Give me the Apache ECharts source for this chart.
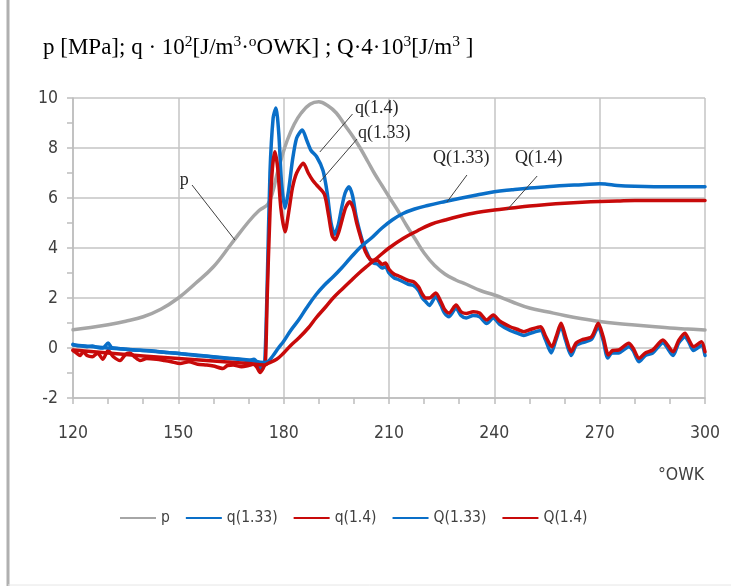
<!DOCTYPE html>
<html><head><meta charset="utf-8">
<script src="https://cdn.jsdelivr.net/npm/echarts@6/dist/echarts.min.js"></script>
<style>html,body{margin:0;padding:0;background:#fff}#c{width:731px;height:586px}</style>
</head><body><div id="c"></div>
<script>
const titleParts = [['n','p [MPa]; q \u00b7 10'],['s','2'],['n','[J/m'],['s','3'],['n','\u00b7'],['s','o'],['n','OWK] ; Q\u00b74\u00b710'],['s','3'],['n','[J/m'],['s','3'],['n',' ]']];
const xTicks = [120, 150, 180, 210, 240, 270, 300];
const yTicks = [-2, 0, 2, 4, 6, 8, 10];
const seriesNames = ['p', 'q(1.33)', 'q(1.4)', 'Q(1.33)', 'Q(1.4)'];

const pData = [[120,0.73],[125,0.82],[130,0.93],[135,1.07],[140,1.25],[145,1.55],[150,2.0],[155,2.6],[160,3.25],[165,4.15],[170,5.05],[173,5.5],[175.5,5.75],[177,6.3],[178,6.9],[179.4,7.6],[181,8.3],[183,8.95],[185,9.4],[187.5,9.75],[190,9.85],[192.5,9.7],[195,9.4],[197.5,8.9],[200,8.4],[202,7.95],[204,7.45],[206,6.95],[208,6.5],[210,6.05],[212.5,5.5],[215,4.9],[217.5,4.35],[220,3.8],[223,3.3],[226,2.95],[229,2.72],[232,2.55],[236,2.3],[240,2.12],[245,1.85],[250,1.6],[255,1.45],[260,1.3],[265,1.17],[270,1.06],[275,0.98],[280,0.92],[285,0.86],[290,0.8],[295,0.76],[300,0.72]];

const q133Data = [[120,0.15],[121,0.1],[122.5,0.08],[124,0.05],[125.5,0.08],[127,0.02],[128.5,0.0],[130,0.2],[131,0.02],[133,-0.02],[135,-0.05],[137,-0.08],[140,-0.1],[143,-0.12],[146,-0.17],[149,-0.2],[152,-0.25],[155,-0.3],[158,-0.33],[161,-0.38],[164,-0.42],[167,-0.45],[170,-0.5],[171.5,-0.45],[172.5,-0.6],[173.2,-0.9],[174,-0.65],[174.6,-0.6],[175.3,2.5],[176.1,7.0],[177,9.2],[177.8,9.6],[178.6,8.6],[179.4,6.6],[180.4,5.6],[181.4,6.3],[182.5,7.5],[183.7,8.4],[185.3,8.72],[186.6,8.3],[187.8,7.9],[189.4,7.65],[191.2,7.1],[192.4,6.2],[193.5,5.0],[194.5,4.55],[195.5,4.9],[196.5,5.6],[197.5,6.2],[198.6,6.45],[199.6,6.1],[200.6,5.3],[201.6,4.7],[202.6,4.2],[203.6,3.85],[204.6,3.55],[205.6,3.4],[206.8,3.35],[208,3.2],[209,3.25],[210,3.0],[211.5,2.8],[212.5,2.75],[214,2.65],[215.5,2.55],[217,2.5],[218.4,2.3],[219.5,2.0],[220.5,1.85],[221.5,1.7],[223.3,2.05],[224.8,1.7],[225.8,1.4],[227.1,1.25],[229.1,1.6],[230.5,1.3],[232,1.2],[234,1.3],[235.8,1.25],[237.8,0.98],[239.7,1.2],[241.5,0.95],[244.5,0.7],[246.5,0.6],[248.4,0.5],[250.5,0.6],[253.2,0.7],[254.5,0.35],[256.2,-0.2],[257.5,0.3],[259,0.85],[260.3,0.3],[261.9,-0.3],[263.3,0.1],[264.8,0.2],[267.7,0.35],[269.6,0.85],[271,0.3],[272.3,-0.4],[273.5,-0.2],[275.4,-0.2],[278.3,0.05],[279.5,-0.1],[281.2,-0.55],[283,-0.3],[285.1,-0.2],[288,0.2],[290.9,-0.3],[292.5,0.2],[294.3,0.45],[295.5,0.2],[296.7,-0.1],[299,0.1],[300,-0.3]];

const q14Data = [[120,-0.1],[121,-0.2],[122,-0.3],[123,-0.15],[124,-0.3],[125.5,-0.35],[127,-0.2],[128.5,-0.45],[130,-0.1],[131.5,-0.35],[133.4,-0.5],[135,-0.25],[136.2,-0.2],[137.5,-0.35],[139.1,-0.5],[141,-0.42],[143.8,-0.45],[146,-0.5],[148,-0.55],[150.5,-0.62],[153,-0.55],[155.5,-0.65],[158.1,-0.68],[160,-0.72],[162.7,-0.82],[164,-0.7],[165.6,-0.68],[168,-0.75],[170,-0.7],[171.3,-0.65],[172.3,-0.75],[173.3,-0.98],[174.2,-0.8],[174.8,-0.6],[175.3,2.0],[176.1,5.4],[176.8,7.2],[177.5,7.85],[178.3,7.2],[179.2,5.6],[180.4,4.65],[181.4,5.4],[182.5,6.4],[183.7,7.0],[185.6,7.39],[187,7.0],[188.3,6.7],[189.4,6.52],[191.6,6.15],[192.8,5.3],[193.8,4.5],[194.7,4.33],[195.6,4.6],[196.6,5.1],[197.6,5.6],[198.8,5.85],[199.8,5.6],[200.8,5.0],[202,4.4],[203.3,3.85],[204.6,3.55],[205.8,3.5],[206.8,3.5],[208,3.35],[209,3.4],[210,3.15],[211.5,2.95],[212.5,2.9],[214,2.8],[215.5,2.7],[217,2.65],[218.4,2.45],[219.5,2.15],[220.5,2.0],[221.5,2.0],[223.3,2.2],[224.8,1.85],[225.8,1.55],[227.1,1.4],[229.1,1.72],[230.5,1.45],[232,1.38],[234,1.45],[235.8,1.4],[237.8,1.12],[239.7,1.32],[241.5,1.08],[244.5,0.85],[246.5,0.75],[248.4,0.65],[250.5,0.75],[253.2,0.85],[254.5,0.5],[256.4,0.05],[257.6,0.45],[259,0.99],[260.3,0.45],[261.9,-0.15],[263.3,0.2],[264.8,0.32],[267.7,0.45],[269.6,0.99],[271,0.45],[272.5,-0.28],[273.7,-0.1],[275.4,-0.08],[278.3,0.19],[279.5,0.0],[281.2,-0.41],[283,-0.2],[285.1,-0.08],[288,0.32],[290.9,-0.15],[292.5,0.3],[294.3,0.59],[295.5,0.3],[296.7,0.05],[299,0.25],[300,-0.15]];

const Q133Data = [[120,0.12],[130,0.0],[140,-0.1],[150,-0.22],[160,-0.35],[170,-0.48],[174.5,-0.58],[175.5,-0.55],[177,-0.3],[178.5,0.0],[180,0.27],[182,0.7],[184.3,1.13],[186.5,1.6],[189.2,2.13],[191.5,2.5],[194.1,2.85],[196.5,3.2],[199,3.6],[202,4.05],[205,4.4],[208,4.8],[211,5.13],[214,5.38],[217.3,5.56],[221,5.7],[226,5.86],[230,5.98],[235,6.12],[240,6.25],[245,6.33],[250,6.4],[255,6.45],[260,6.5],[265,6.53],[270,6.57],[272,6.55],[275,6.5],[280,6.47],[290,6.45],[300,6.45]];

const Q14Data = [[120,-0.08],[130,-0.2],[140,-0.32],[150,-0.42],[160,-0.52],[170,-0.62],[174.5,-0.68],[175.5,-0.62],[178,-0.45],[180,-0.2],[182,0.1],[184.3,0.4],[187,0.8],[189.2,1.2],[192,1.65],[194.1,2.0],[197,2.4],[199,2.67],[201.5,3.0],[204,3.3],[207,3.65],[210,4.0],[214,4.38],[218,4.68],[222,4.95],[226,5.12],[230,5.27],[235,5.42],[240,5.52],[245,5.6],[250,5.68],[255,5.74],[260,5.79],[265,5.83],[270,5.86],[275,5.88],[280,5.9],[290,5.9],[300,5.9]];

// annotation labels: text anchor (left-middle) and leader line, in data coordinates
const annotations = [
  {text: 'p',       at: [150.4, 6.7],  from: [153.9, 6.52], to: [166.1, 4.32]},
  {text: 'q(1.4)',  at: [200.3, 9.6],  from: [199.6, 9.36], to: [190.3, 7.84]},
  {text: 'q(1.33)', at: [201.2, 8.6],  from: [200.9, 8.36], to: [190.3, 6.64]},
  {text: 'Q(1.33)', at: [222.5, 7.6],  from: [232.2, 6.92], to: [226.5, 5.84]},
  {text: 'Q(1.4)',  at: [245.9, 7.6],  from: [252.2, 6.88], to: [243.6, 5.52]}
];

const colors = ['#a6a6a6', '#0a6fc8', '#c80a0a', '#0a6fc8', '#c80a0a'];
const SANS = "'DejaVu Sans Condensed', 'Liberation Sans', sans-serif";
const SERIF = "'Liberation Serif', serif";

const chart = echarts.init(document.getElementById('c'), null, {renderer: 'canvas'});
const dataSets = [pData, q133Data, q14Data, Q133Data, Q14Data];
const smooths = [0.4, 0.25, 0.25, 0.4, 0.4];

const option = {
  animation: false,
  backgroundColor: '#fff',
  grid: {left: 73, right: 26, top: 98, bottom: 188, containLabel: false},
  legend: {
    left: 115, top: 505, itemWidth: 36, itemHeight: 12, itemGap: 16,
    icon: 'path://M0,5L36,5L36,7L0,7Z',
    data: seriesNames,
    textStyle: {fontFamily: SANS, fontSize: 15.5, color: '#404040'}
  },
  xAxis: {
    type: 'value', min: xTicks[0], max: xTicks[xTicks.length - 1], interval: 30,
    axisLine: {show: true, onZero: false, lineStyle: {color: '#bdbdbd', width: 1.5}},
    axisTick: {show: true, length: 6, lineStyle: {color: '#bdbdbd', width: 1.5}},
    minorTick: {show: true, splitNumber: 3, length: 6, lineStyle: {color: '#bdbdbd', width: 1.5}},
    splitLine: {show: true, lineStyle: {color: '#c4c4c4', width: 1.5}},
    axisLabel: {fontFamily: SANS, fontSize: 17.5, color: '#404040', margin: 26}
  },
  yAxis: {
    type: 'value', min: yTicks[0], max: yTicks[yTicks.length - 1], interval: 2,
    axisLine: {show: true, lineStyle: {color: '#bdbdbd', width: 1.5}},
    axisTick: {show: true, length: 6, lineStyle: {color: '#bdbdbd', width: 1.5}},
    minorTick: {show: true, splitNumber: 2, length: 6, lineStyle: {color: '#bdbdbd', width: 1.5}},
    splitLine: {show: true, lineStyle: {color: '#c4c4c4', width: 1.5}},
    axisLabel: {fontFamily: SANS, fontSize: 17.5, color: '#404040', margin: 15}
  },
  series: seriesNames.map((n, i) => ({
    name: n, type: 'line', data: dataSets[i], symbol: 'none', smooth: smooths[i],
    color: colors[i],
    lineStyle: {color: colors[i], width: 3.5, cap: 'round', join: 'round'},
    z: 2 + i
  }))
};
chart.setOption(option);

const titleRich = {
  n: {fontFamily: SERIF, fontSize: 23, color: '#262626', lineHeight: 28, verticalAlign: 'bottom'},
  s: {fontFamily: SERIF, fontSize: 15.5, color: '#262626', lineHeight: 28, verticalAlign: 'top', padding: [3, 0, 0, 0]}
};
const titleStr = titleParts.map(p => '{' + p[0] + '|' + p[1] + '}').join('');

const g = [];
g.push({type: 'line', shape: {x1: 8, y1: 0, x2: 8, y2: 586}, style: {stroke: '#b0b0b0', lineWidth: 3}});
g.push({type: 'line', shape: {x1: 8, y1: 585, x2: 731, y2: 585}, style: {stroke: '#e6e6e6', lineWidth: 1}});
g.push({type: 'text', left: 43, top: 31, style: {text: titleStr, rich: titleRich}});
g.push({type: 'text', left: 658, top: 466, style: {text: '\u00b0OWK', font: "17.5px " + SANS, fill: '#404040'}});
annotations.forEach(a => {
  const t = chart.convertToPixel({gridIndex: 0}, a.at);
  const f = chart.convertToPixel({gridIndex: 0}, a.from);
  const e = chart.convertToPixel({gridIndex: 0}, a.to);
  g.push({type: 'line', z: 20, shape: {x1: f[0], y1: f[1], x2: e[0], y2: e[1]}, style: {stroke: '#404040', lineWidth: 1}});
  g.push({type: 'text', z: 20, x: t[0], y: t[1], style: {text: a.text, font: "18px " + SERIF, fill: '#262626', textVerticalAlign: 'middle', verticalAlign: 'middle'}});
});
chart.setOption({graphic: g});
</script></body></html>
